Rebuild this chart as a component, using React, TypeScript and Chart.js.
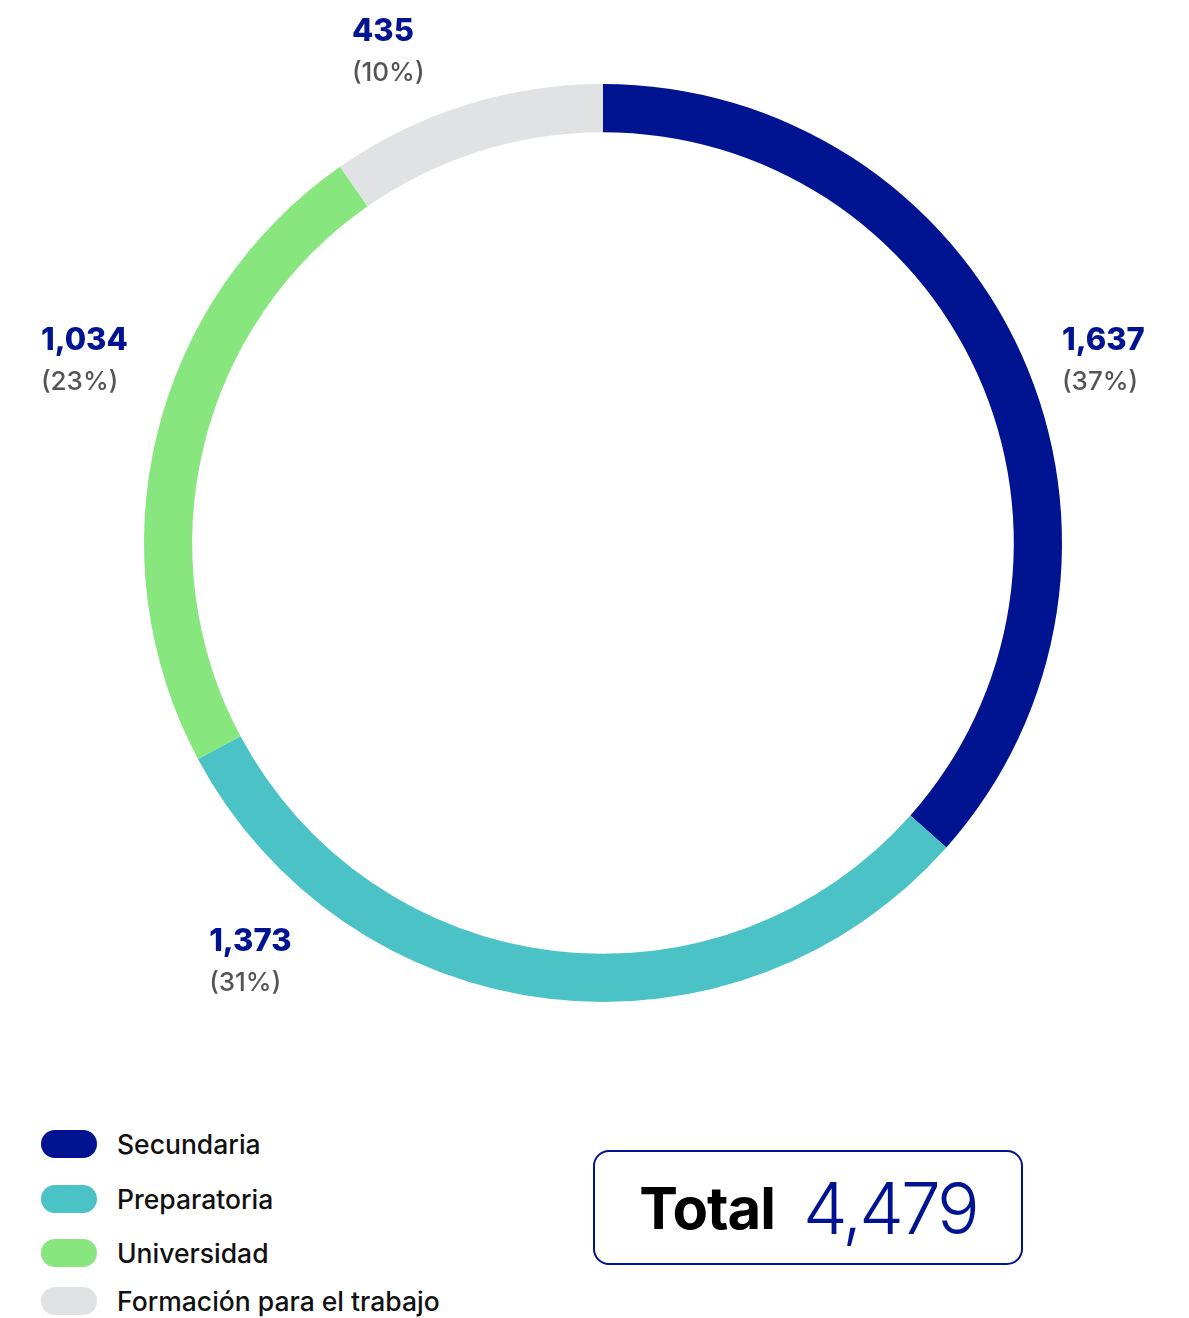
import React, { useEffect, useRef } from "react";
import { Chart, registerables } from "chart.js";

Chart.register(...registerables);

const categories = ["Secundaria", "Preparatoria", "Universidad", "Formación para el trabajo"];
const values = [1637, 1373, 1034, 435];
const percentLabels = ["(37%)", "(31%)", "(23%)", "(10%)"];
const valueLabels = ["1,637", "1,373", "1,034", "435"];
const totalLabel = "4,479";
const colors = ["#001391", "#4BC3C6", "#88E67F", "#E1E2E4"];

// label anchor (left edge, middle of value text) relative to doughnut centre, in units of outer radius
const labelAnchors: [number, number][] = [
  [1.0, -0.44],
  [-0.858, 0.869],
  [-1.2244, -0.44],
  [-0.547, -1.113],
];

const FONT = "Inter, 'Noto Sans', sans-serif";

const labelPlugin = {
  id: "outsideLabels",
  afterDraw(chart: any) {
    const meta = chart.getDatasetMeta(0);
    const ctx = chart.ctx;
    ctx.save();
    meta.data.forEach((arc: any, i: number) => {
      const { x, y, outerRadius } = arc.getProps(["x", "y", "outerRadius"], true);
      const [ax, ay] = labelAnchors[i];
      const lx = x + ax * outerRadius;
      const ly = y + ay * outerRadius;
      ctx.textAlign = "left";
      ctx.textBaseline = "middle";
      ctx.fillStyle = "#001391";
      ctx.font = `800 31px ${FONT}`;
      ctx.fillText(valueLabels[i], lx, ly);
      ctx.fillStyle = "#555555";
      ctx.font = `500 26px ${FONT}`;
      ctx.fillText(percentLabels[i], lx, ly + 41);
    });
    ctx.restore();
  },
};

export default function App() {
  const ref = useRef<HTMLCanvasElement>(null);
  useEffect(() => {
    if (!ref.current) return;
    const chart = new Chart(ref.current, {
      type: "doughnut",
      data: {
        labels: categories,
        datasets: [
          {
            data: values,
            backgroundColor: colors,
            borderWidth: 0,
          },
        ],
      },
      options: {
        responsive: false,
        animation: false,
        cutout: "89.5%",
        layout: { padding: { top: 76, left: 17, right: 0, bottom: 86 } },
        plugins: {
          legend: { display: false },
          tooltip: { enabled: false },
        },
      },
      plugins: [labelPlugin],
    });
    return () => chart.destroy();
  }, []);

  const legendTops = [1122, 1177, 1231, 1279];

  return (
    <div style={{ position: "relative", width: 1173, height: 1310, fontFamily: FONT }}>
      <canvas ref={ref} width={1173} height={1080} style={{ display: "block", width: 1173, height: 1080 }} />
      {categories.map((c, i) => (
        <div
          key={c}
          style={{
            position: "absolute",
            left: 33,
            top: legendTops[i],
            height: 28,
            display: "flex",
            alignItems: "center",
          }}
        >
          <div style={{ width: 56, height: 28, borderRadius: 14, background: colors[i] }} />
          <div style={{ marginLeft: 20, fontSize: 26.5, fontWeight: 500, color: "#111", whiteSpace: "nowrap" }}>{c}</div>
        </div>
      ))}
      <div
        style={{
          position: "absolute",
          left: 585,
          top: 1142,
          width: 426,
          height: 111,
          border: "2px solid #001391",
          borderRadius: 16,
          display: "flex",
          alignItems: "center",
          justifyContent: "center",
          boxSizing: "content-box",
        }}
      >
        <span style={{ fontSize: 58, fontWeight: 700, color: "#000", letterSpacing: -1 }}>Total</span>
        <span style={{ fontSize: 71, fontWeight: 300, color: "#001391", marginLeft: 28, letterSpacing: -3 }}>{totalLabel}</span>
      </div>
    </div>
  );
}
